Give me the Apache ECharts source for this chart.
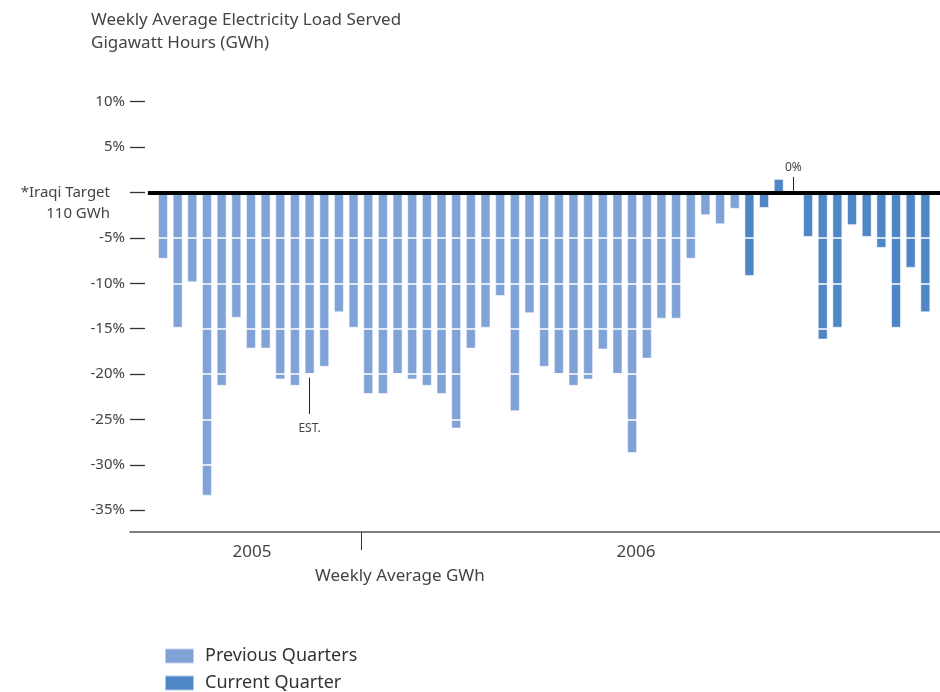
<!DOCTYPE html>
<html>
<head>
<meta charset="utf-8">
<script src="https://cdn.jsdelivr.net/npm/echarts@6.0.0/dist/echarts.min.js"></script>
<style>
  html, body { margin: 0; padding: 0; background: #fff; }
  #chart { width: 940px; height: 692px; }
</style>
</head>
<body>
<div id="chart"></div>
<script>
// weekly % difference from the 110 GWh target
const previousQuarters = [-7.3, -14.9, -9.9, -33.4, -21.3, -13.8, -17.2, -17.2, -20.6, -21.3,
  -20.0, -19.2, -13.2, -14.9, -22.2, -22.2, -20.0, -20.6, -21.3, -22.2,
  -26.0, -17.2, -14.9, -11.4, -24.1, -13.3, -19.2, -20.0, -21.3, -20.6,
  -17.3, -20.0, -28.7, -18.3, -13.9, -13.9, -7.3, -2.5, -3.5, -1.8];
const currentQuarter = [-9.2, -1.7, 1.5, 0, -4.9, -16.2, -14.9, -3.6, -4.9, -6.1, -14.9, -8.3, -13.2];

const yTicks = [10, 5, 0, -5, -10, -15, -20, -25, -30, -35];
const years = ['2005', '2006'];
const yearAt = [6.07, 32.26];   // week index under which each year label sits
const yearSplit = [13.5];       // boundary between the two years
const estWeek = 10;             // estimated value
const zeroWeek = 43;            // 0% week

const FONT = 'Noto Sans';
const TXT = '#444';

const prevData = previousQuarters.map((v, i) => [i, v]);
const currData = currentQuarter.map((v, i) => [previousQuarters.length + i, v]);
const lastWeek = previousQuarters.length + currentQuarter.length;

const chart = echarts.init(document.getElementById('chart'));

// white lines cut through the bars at every negative tick
const gridCuts = yTicks.filter((t) => t < 0).map((t) => [
  { coord: [-1, t], lineStyle: { color: '#fff', width: 1.5, type: 'solid' } },
  { coord: [lastWeek, t] },
]);

chart.setOption({
  animation: false,
  textStyle: { fontFamily: FONT },
  title: {
    text: 'Weekly Average Electricity Load Served\nGigawatt Hours (GWh)',
    left: 91,
    top: 9,
    padding: 0,
    textStyle: { fontFamily: FONT, fontSize: 17, fontWeight: 'normal', color: TXT, lineHeight: 23 },
  },
  legend: {
    orient: 'vertical',
    left: 164,
    top: 647,
    width: 300,
    height: 80,
    padding: 0,
    itemWidth: 29,
    itemHeight: 15,
    itemGap: 9,
    icon: 'rect',
    textStyle: { fontFamily: FONT, fontSize: 18, lineHeight: 15, color: '#333', padding: [0, 0, 0, 6] },
    data: ['Previous Quarters', 'Current Quarter'],
  },
  grid: { left: 130, right: 0, top: 79, bottom: 160 },
  xAxis: {
    type: 'value',
    min: -2.25,
    max: 53,
    splitLine: { show: false },
    axisLine: { show: true, onZero: false, lineStyle: { color: '#555', width: 1.5 } },
    axisTick: { show: true, customValues: yearSplit, length: 18, lineStyle: { color: '#333' } },
    axisLabel: {
      customValues: yearAt,
      formatter: (v) => years[yearAt.indexOf(v)],
      fontSize: 17,
      color: TXT,
      margin: 12,
    },
  },
  yAxis: {
    type: 'value',
    min: -37.4,
    max: 12.5,
    splitLine: { show: false },
    axisLine: { show: false, onZero: false },
    axisTick: { show: true, inside: true, length: 15, customValues: yTicks, lineStyle: { color: '#333', width: 1.3 } },
    axisLabel: {
      customValues: yTicks,
      margin: 5,
      fontSize: 15,
      color: TXT,
      formatter: (v) => (v === 0 ? '{a| }\n{a|*Iraqi Target}\n{a|110 GWh}' : v + '%'),
      rich: { a: { fontSize: 15, color: TXT, lineHeight: 21, padding: [0, 15, 0, 0], align: 'right' } },
    },
  },
  series: [
    {
      name: 'Previous Quarters',
      type: 'bar',
      data: prevData,
      barWidth: 10,
      barGap: '-100%',
      itemStyle: { color: '#80a3d7', borderColor: 'rgba(255,255,255,0.55)', borderWidth: 1 },
      markLine: {
        silent: true,
        symbol: 'none',
        lineStyle: { color: '#222', type: 'solid', width: 1 },
        label: { show: true, position: 'end', fontSize: 12, color: TXT, distance: 9 },
        data: [
          [
            { coord: [estWeek, previousQuarters[estWeek] - 0.4], label: { formatter: 'EST.' } },
            { coord: [estWeek, -24.4] },
          ],
        ],
      },
    },
    {
      name: 'Current Quarter',
      type: 'bar',
      data: currData,
      barWidth: 10,
      barGap: '-100%',
      z: 3,
      itemStyle: { color: '#4e86c6', borderColor: 'rgba(255,255,255,0.55)', borderWidth: 1 },
      markLine: {
        silent: true,
        symbol: 'none',
        label: { show: false },
        data: [
          ...gridCuts,
          [
            { coord: [-1.03, 0], lineStyle: { color: '#000', width: 4, type: 'solid' } },
            { coord: [lastWeek, 0] },
          ],
          [
            {
              coord: [zeroWeek, currentQuarter[zeroWeek - previousQuarters.length] + 0.2],
              lineStyle: { color: '#222', width: 1, type: 'solid' },
              label: { show: true, position: 'end', formatter: '0%', fontSize: 12, color: TXT, distance: 3 },
            },
            { coord: [zeroWeek, 1.7] },
          ],
        ],
      },
    },
  ],
  graphic: [
    {
      type: 'text',
      left: 315,
      top: 568,
      style: { text: 'Weekly Average GWh', fontFamily: FONT, fontSize: 17, fill: TXT },
    },
  ],
});
</script>
</body>
</html>
